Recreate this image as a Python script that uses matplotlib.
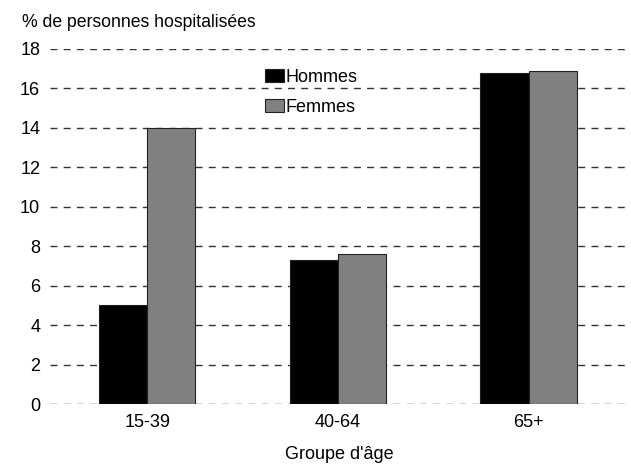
import matplotlib
matplotlib.use("Agg")
import matplotlib.pyplot as plt
import numpy as np

groups = ["15-39", "40-64", "65+"]
hommes = [5.0, 7.3, 16.8]
femmes = [14.0, 7.6, 16.9]
yticks = [0, 2, 4, 6, 8, 10, 12, 14, 16, 18]

plt.rcParams["font.family"] = ["Liberation Sans", "DejaVu Sans"]

fig = plt.figure(figsize=(6.31, 4.66), dpi=100)
ax = fig.add_axes([0.079, 0.133, 0.916, 0.762])

x = np.arange(len(groups))
w = 0.253
ax.bar(x - w / 2, hommes, w, color="black", edgecolor="#222", linewidth=0.8,
       label="Hommes", zorder=3)
ax.bar(x + w / 2, femmes, w, color="#808080", edgecolor="#222", linewidth=0.8,
       label="Femmes", zorder=3)

ax.set_xlim(-0.51, 2.52)
ax.set_ylim(0, 18)
ax.set_yticks(yticks)
ax.set_xticks(x)
ax.set_xticklabels(groups)
for s in ax.spines.values():
    s.set_visible(False)
ax.tick_params(axis="both", length=0, labelsize=13, pad=7)
ax.yaxis.grid(True, ls=(0, (5, 4.5)), color="#333", lw=1.0, zorder=0)
ax.set_axisbelow(True)

ax.set_xlabel("Groupe d'âge", fontsize=13, labelpad=11)
fig.text(0.035, 0.952, "% de personnes hospitalisées", fontsize=12.7, va="center")

ax.legend(loc="upper left", bbox_to_anchor=(0.36, 0.965), frameon=False, fontsize=13,
          handlelength=1.05, handleheight=0.75, handletextpad=0.1, labelspacing=0.75,
          borderaxespad=0)

fig.savefig("out.png", dpi=100)
